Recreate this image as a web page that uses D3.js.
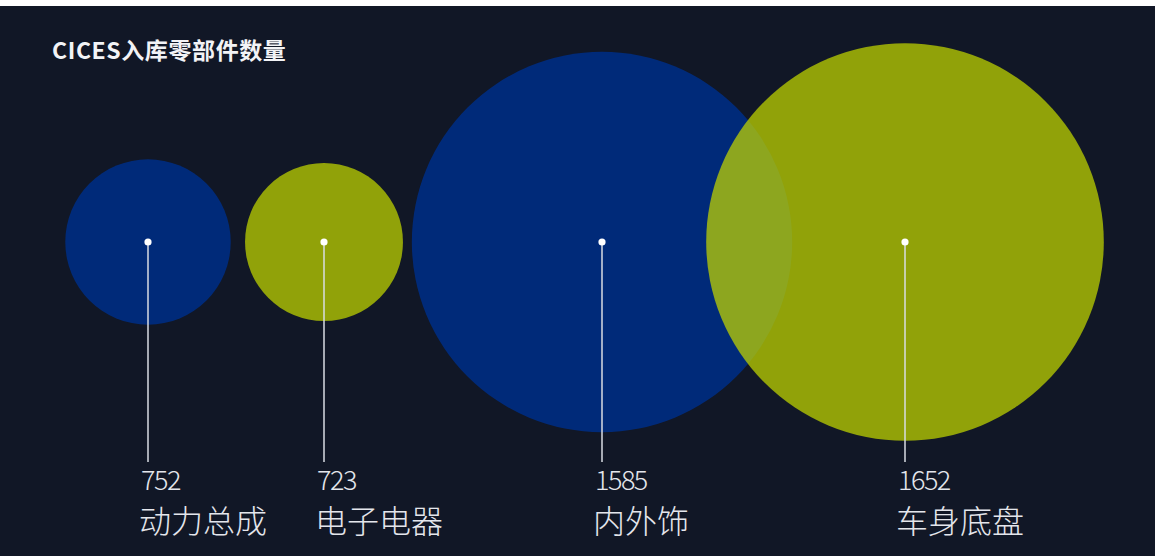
<!DOCTYPE html>
<html>
<head>
<meta charset="utf-8">
<script src="https://cdn.jsdelivr.net/npm/d3@7/dist/d3.min.js"></script>
<style>
  html, body { margin: 0; padding: 0; background: #ffffff; }
  svg { display: block; }
</style>
</head>
<body>
<script>
// Parts received into stock, by assembly group
const categories = ["动力总成", "电子电器", "内外饰", "车身底盘"];
const counts = [752, 723, 1585, 1652];
const title = "CICES入库零部件数量";

const W = 1158, H = 556;
const topGap = 6;           // thin light strip above the panel
const cy = 242;             // common vertical centre of the bubbles

const svg = d3.select("body").append("svg")
  .attr("width", W).attr("height", H);

// dark panel
svg.append("rect")
  .attr("x", 0).attr("y", topGap)
  .attr("width", W - 3).attr("height", H - topGap)
  .attr("fill", "#111726");

// horizontal anchor of each bubble
const x = d3.scaleOrdinal()
  .domain(categories)
  .range([148, 324, 602, 905]);

// bubble radius from the count
const r = d3.scaleLinear()
  .domain([700, 1700])
  .range([76, 205]);

// alternating fill colours
const fill = d3.scaleOrdinal()
  .domain(categories)
  .range(["rgba(0,44,125,0.96)", "rgba(190,210,0,0.74)", "rgba(0,44,125,0.96)", "rgba(190,210,0,0.74)"]);

const data = categories.map((c, i) => ({ name: c, value: counts[i] }));

svg.append("g").selectAll("circle")
  .data(data)
  .join("circle")
  .attr("cx", d => x(d.name))
  .attr("cy", cy)
  .attr("r", d => r(d.value))
  .attr("fill", d => fill(d.name));

const labels = svg.append("g").selectAll("g")
  .data(data)
  .join("g")
  .attr("transform", d => `translate(${x(d.name)},${cy})`);

labels.append("line")
  .attr("x1", 0).attr("x2", 0)
  .attr("y1", 0).attr("y2", 220)
  .attr("stroke", "#d9dce3")
  .attr("stroke-width", 1.5);

labels.append("circle")
  .attr("r", 3.6)
  .attr("fill", "#ffffff");

labels.append("text")
  .attr("x", -7)
  .attr("y", 248)
  .attr("fill", "#e4e6ec")
  .style("font-family", "'Noto Sans CJK SC', 'Noto Sans', sans-serif")
  .style("font-weight", 300)
  .style("font-size", "27px")
  .style("letter-spacing", "-1.5px")
  .text(d => d.value);

labels.append("text")
  .attr("x", -9)
  .attr("y", 291)
  .attr("fill", "#e4e6ec")
  .style("font-family", "'Noto Sans CJK SC', sans-serif")
  .style("font-weight", 300)
  .style("font-size", "32px")
  .text(d => d.name);

// title
svg.append("text")
  .attr("x", 52)
  .attr("y", 59)
  .attr("fill", "#f2f3f6")
  .style("font-family", "'Noto Sans CJK SC', sans-serif")
  .style("font-weight", 700)
  .style("font-size", "23px")
  .style("letter-spacing", "0.6px")
  .text(title);
</script>
</body>
</html>
